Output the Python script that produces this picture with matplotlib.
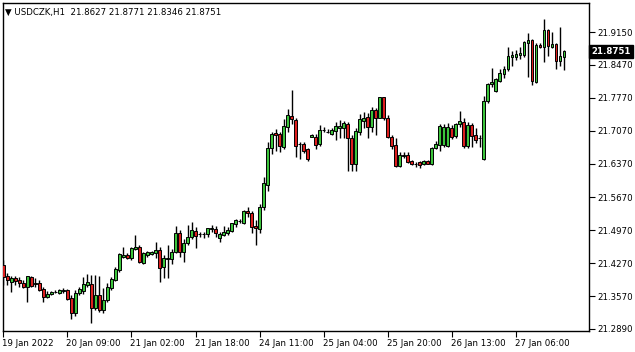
import matplotlib
matplotlib.use("Agg")
import matplotlib.pyplot as plt
import matplotlib.transforms as mtransforms
import numpy as np

# USDCZK H1 candles (141 bars)
opens = [21.4235, 21.4003, 21.3876, 21.3961, 21.3918, 21.3855, 21.3771, 21.3982, 21.3834, 21.3855,
         21.3728, 21.3559, 21.3623, 21.3665, 21.3644, 21.3686, 21.3707, 21.3538, 21.3221, 21.3644,
         21.3686, 21.3813, 21.3834, 21.3327, 21.3602, 21.3285, 21.3496, 21.3749, 21.3918, 21.4130,
         21.4404, 21.4447, 21.4383, 21.4573, 21.4615, 21.4278, 21.4447, 21.4468, 21.4489, 21.4552,
         21.4193, 21.4362, 21.4362, 21.4510, 21.4911, 21.4510, 21.4700, 21.4827, 21.4953, 21.4890,
         21.4884, 21.4890, 21.4995, 21.4995, 21.4805, 21.4869, 21.4911, 21.4953, 21.5101, 21.5164,
         21.5122, 21.5376, 21.5333, 21.5059, 21.4995, 21.5460, 21.5925, 21.6706, 21.7023, 21.7002,
         21.6727, 21.7150, 21.7382, 21.7298, 21.6791, 21.6791, 21.6685, 21.6939, 21.6939, 21.6791,
         21.7086, 21.7044, 21.7002, 21.7065, 21.7129, 21.7129, 21.7213, 21.6917, 21.6368, 21.7044,
         21.7276, 21.7361, 21.7150, 21.7509, 21.7340, 21.7773, 21.7340, 21.6939, 21.6770, 21.6326,
         21.6544, 21.6558, 21.6432, 21.6368, 21.6411, 21.6368, 21.6432, 21.6368, 21.6706, 21.6770,
         21.6770, 21.6748, 21.7129, 21.6960, 21.7213, 21.7255, 21.6748, 21.7192, 21.6981, 21.6917,
         21.6474, 21.7699, 21.8058, 21.7910, 21.8121, 21.8269, 21.8375, 21.8628, 21.8628, 21.8670,
         21.8670, 21.8924, 21.8987, 21.8100, 21.8882, 21.8839, 21.9198, 21.8839, 21.8903, 21.8544,
         21.8627]
highs = [21.4341, 21.4067, 21.4003, 21.4003, 21.3982, 21.3918, 21.4003, 21.4003, 21.3961, 21.3918,
         21.3771, 21.3686, 21.3686, 21.3707, 21.3728, 21.3749, 21.3728, 21.3602, 21.3707, 21.3771,
         21.3982, 21.4045, 21.4024, 21.4024, 21.4003, 21.3749, 21.3855, 21.3982, 21.4193, 21.4489,
         21.4615, 21.4489, 21.4615, 21.4869, 21.4658, 21.4510, 21.4531, 21.4531, 21.4721, 21.4615,
         21.4447, 21.4658, 21.4573, 21.5059, 21.4974, 21.4784, 21.5080, 21.5143, 21.5038, 21.4932,
         21.4932, 21.5017, 21.5080, 21.5059, 21.4932, 21.5059, 21.5038, 21.5122, 21.5207, 21.5207,
         21.5397, 21.5460, 21.5376, 21.5186, 21.5524, 21.6094, 21.6833, 21.7044, 21.7108, 21.7044,
         21.7319, 21.7530, 21.7931, 21.7340, 21.6833, 21.6833, 21.6706, 21.7002, 21.7002, 21.7192,
         21.7150, 21.7108, 21.7129, 21.7255, 21.7298, 21.7276, 21.7255, 21.6981, 21.7129, 21.7424,
         21.7467, 21.7445, 21.7572, 21.7551, 21.7783, 21.7783, 21.7403, 21.6981, 21.6917, 21.6622,
         21.6622, 21.6622, 21.6453, 21.6411, 21.6432, 21.6453, 21.6453, 21.6727, 21.6854, 21.7213,
         21.7213, 21.7234, 21.7192, 21.7234, 21.7488, 21.7340, 21.7255, 21.7234, 21.7129, 21.6981,
         21.7804, 21.8079, 21.8396, 21.8185, 21.8375, 21.8438, 21.8839, 21.8755, 21.8776, 21.8839,
         21.8966, 21.9135, 21.9008, 21.8924, 21.8924, 21.9431, 21.9220, 21.9156, 21.8924, 21.9262,
         21.8771]
lows = [21.3812, 21.3812, 21.3665, 21.3812, 21.3771, 21.3749, 21.3454, 21.3771, 21.3771, 21.3686,
        21.3454, 21.3538, 21.3602, 21.3644, 21.3623, 21.3644, 21.3496, 21.3095, 21.3158, 21.3602,
        21.3623, 21.3771, 21.3010, 21.3285, 21.3243, 21.3221, 21.3454, 21.3707, 21.3897, 21.4087,
        21.4383, 21.4362, 21.4341, 21.4552, 21.4278, 21.4256, 21.4404, 21.4447, 21.4383, 21.3876,
        21.3961, 21.3961, 21.4256, 21.4489, 21.4404, 21.4299, 21.4658, 21.4784, 21.4594, 21.4827,
        21.4805, 21.4827, 21.4932, 21.4827, 21.4721, 21.4848, 21.4869, 21.4932, 21.5038, 21.5122,
        21.5110, 21.5249, 21.4911, 21.4658, 21.4911, 21.5397, 21.5798, 21.6580, 21.6643, 21.6622,
        21.6685, 21.7044, 21.7213, 21.6516, 21.6474, 21.6601, 21.6432, 21.6935, 21.6685, 21.6748,
        21.7044, 21.7023, 21.6981, 21.6875, 21.6917, 21.6917, 21.6220, 21.6220, 21.6220, 21.6981,
        21.7129, 21.6917, 21.7044, 21.6981, 21.7330, 21.7298, 21.6917, 21.6685, 21.6305, 21.6305,
        21.6495, 21.6400, 21.6347, 21.6305, 21.6284, 21.6347, 21.6358, 21.6347, 21.6685, 21.6643,
        21.6727, 21.6727, 21.6896, 21.6917, 21.7150, 21.6706, 21.6706, 21.6727, 21.6812, 21.6727,
        21.6463, 21.7657, 21.7995, 21.7889, 21.8100, 21.8185, 21.8332, 21.8438, 21.8565, 21.8586,
        21.8628, 21.8206, 21.8037, 21.8079, 21.8818, 21.8523, 21.8649, 21.8818, 21.8375, 21.8438,
        21.8346]
closes = [21.3982, 21.3918, 21.3961, 21.3897, 21.3855, 21.3771, 21.4003, 21.3792, 21.3855, 21.3707,
          21.3559, 21.3623, 21.3665, 21.3675, 21.3707, 21.3707, 21.3517, 21.3221, 21.3644, 21.3728,
          21.3834, 21.3876, 21.3327, 21.3602, 21.3285, 21.3496, 21.3771, 21.3939, 21.4151, 21.4468,
          21.4447, 21.4383, 21.4594, 21.4615, 21.4299, 21.4489, 21.4510, 21.4510, 21.4552, 21.4172,
          21.4383, 21.4383, 21.4510, 21.4911, 21.4510, 21.4700, 21.4827, 21.4974, 21.4848, 21.4886,
          21.4890, 21.5010, 21.5010, 21.4911, 21.4890, 21.4932, 21.4974, 21.5115, 21.5186, 21.5168,
          21.5376, 21.5333, 21.5038, 21.5017, 21.5460, 21.5967, 21.6706, 21.7002, 21.6981, 21.6748,
          21.7171, 21.7403, 21.7319, 21.6748, 21.6795, 21.6643, 21.6474, 21.6981, 21.6770, 21.7086,
          21.7090, 21.7048, 21.7086, 21.7171, 21.7165, 21.7234, 21.6917, 21.6368, 21.7065, 21.7319,
          21.7340, 21.7150, 21.7509, 21.7340, 21.7773, 21.7340, 21.6939, 21.6748, 21.6326, 21.6558,
          21.6548, 21.6411, 21.6368, 21.6364, 21.6347, 21.6432, 21.6368, 21.6706, 21.6791, 21.7171,
          21.7150, 21.7150, 21.6939, 21.7213, 21.7276, 21.6748, 21.7192, 21.6960, 21.6875, 21.6913,
          21.7699, 21.8058, 21.8100, 21.8163, 21.8290, 21.8375, 21.8649, 21.8670, 21.8692, 21.8713,
          21.8945, 21.8987, 21.8121, 21.8882, 21.8839, 21.9198, 21.8860, 21.8903, 21.8544, 21.8649,
          21.8751]

time_labels = ["19 Jan 2022", "20 Jan 09:00", "21 Jan 02:00", "21 Jan 18:00", "24 Jan 11:00",
               "25 Jan 04:00", "25 Jan 20:00", "26 Jan 13:00", "27 Jan 06:00"]
label_every = 16
price_ticks = [21.2890, 21.3570, 21.4270, 21.4970, 21.5670, 21.6370, 21.7070, 21.7770, 21.8470, 21.9150]

UP = "#3cc43c"
DOWN = "#dc1e1e"
FS = 6.2

o = np.array(opens); h = np.array(highs); l = np.array(lows); c = np.array(closes)
x = np.arange(len(o))
up = c >= o

fig = plt.figure(figsize=(6.35, 3.52), dpi=100)
ax = fig.add_axes([3 / 635, 21 / 352, 586 / 635, 328 / 352])

# wicks then bodies
ax.vlines(x, l, h, color="black", linewidth=1.0, zorder=2)
bottoms = np.minimum(o, c)
heights = np.abs(c - o)
ax.bar(x, heights, bottom=bottoms, width=0.62,
       color=np.where(up, UP, DOWN), edgecolor="black", linewidth=0.7, zorder=3)

ax.set_xlim(-0.1, 146.3)
ax.set_ylim(21.2841, 21.9769)

# right price scale
ax.yaxis.tick_right()
ax.set_yticks(price_ticks)
ax.set_yticklabels([f"{p:.4f}" for p in price_ticks])
ax.tick_params(axis="y", direction="out", length=4, width=0.8, pad=2, labelsize=FS)

# bottom time scale, labels start at the tick
ticks_x = np.arange(0, len(time_labels) * label_every, label_every)
ax.set_xticks(ticks_x)
ax.set_xticklabels(time_labels, ha="left")
ax.tick_params(axis="x", direction="out", length=4, width=0.8, pad=2, labelsize=FS)
for t in ax.get_xticklabels():
    t.set_transform(t.get_transform() + mtransforms.ScaledTranslation(-1 / 100, 0, fig.dpi_scale_trans))

for s in ax.spines.values():
    s.set_color("black")
    s.set_linewidth(1.0)

# last price tag
trans = mtransforms.blended_transform_factory(ax.transAxes, ax.transData)
ax.text(1.004, closes[-1], f"{closes[-1]:.4f}", transform=trans, ha="left", va="center",
        color="white", fontsize=FS, fontweight="bold", zorder=5,
        bbox=dict(boxstyle="square,pad=0.25", facecolor="black", edgecolor="black"))

# header
ax.text(0.004, 0.985, "\u25BC USDCZK,H1  21.8627 21.8771 21.8346 21.8751", transform=ax.transAxes,
        ha="left", va="top", fontsize=FS, color="black")

fig.savefig("out.png", dpi=100, facecolor="white")
